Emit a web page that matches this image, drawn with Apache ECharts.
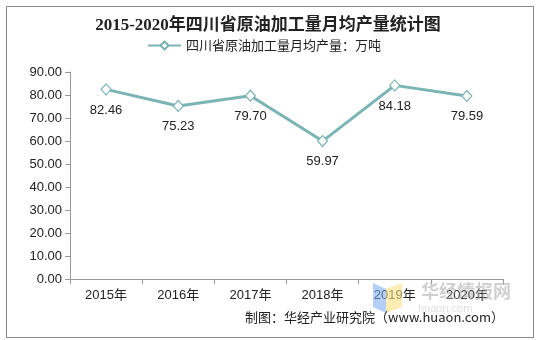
<!DOCTYPE html>
<html><head><meta charset="utf-8">
<script src="https://cdn.jsdelivr.net/npm/echarts@6/dist/echarts.min.js"></script>
<style>html,body{margin:0;padding:0;background:#fff}#c{width:536px;height:340px}</style>
</head><body><div id="c"></div>
<script>
var categories = ['2015年','2016年','2017年','2018年','2019年','2020年'];
var values = [82.46, 75.23, 79.70, 59.97, 84.18, 79.59];
var seriesName = '四川省原油加工量月均产量：万吨';
var titleText = '2015-2020年四川省原油加工量月均产量统计图';
var sourceText = '制图：华经产业研究院（www.huaon.com）';

var chart = echarts.init(document.getElementById('c'));
chart.setOption({
  animation: false,
  backgroundColor: '#fff',
  title: {
    text: titleText, left: 'center', top: 12,
    textStyle: {fontSize: 17, fontWeight: 'bold', color: '#222', fontFamily: 'Liberation Serif, Noto Sans CJK SC'}
  },
  legend: {
    top: 34, left: 142, itemWidth: 33, itemHeight: 10, itemGap: 4,
    textStyle: {fontSize: 13, color: '#222', fontFamily: 'Noto Sans CJK SC'},
    data: [seriesName]
  },
  grid: {left: 70, right: 33, top: 72, bottom: 61},
  xAxis: {
    type: 'category', data: categories, boundaryGap: true,
    axisLine: {lineStyle: {color: '#999'}},
    axisTick: {show: true, length: 5, lineStyle: {color: '#999'}},
    axisLabel: {fontSize: 13, color: '#222', margin: 10, fontFamily: 'Liberation Sans, Noto Sans CJK SC'}
  },
  yAxis: {
    type: 'value', min: 0, max: 90, interval: 10,
    axisLine: {show: true, lineStyle: {color: '#999'}},
    axisTick: {show: true, length: 5, lineStyle: {color: '#999'}},
    splitLine: {show: false},
    axisLabel: {fontSize: 13, color: '#222', margin: 8, fontFamily: 'Liberation Sans',
      formatter: function(v){return v.toFixed(2);}}
  },
  series: [{
    name: seriesName, type: 'line', data: values,
    symbol: 'diamond', symbolSize: [10, 11],
    lineStyle: {color: '#7ab4b3', width: 3},
    itemStyle: {color: '#fff', borderColor: '#7ab4b3', borderWidth: 1.2},
    label: {show: true, position: 'bottom', distance: 8, fontSize: 13, color: '#222',
      fontFamily: 'Liberation Sans', formatter: function(p){return p.value.toFixed(2);}},
    color: '#7ab4b3'
  }],
  graphic: [
    {type: 'rect', left: 4, top: 4, shape: {width: 527, height: 331}, style: {fill: 'none', stroke: '#888', lineWidth: 1}, z: -1},
    {type: 'text', left: 421, top: 282, style: {text: '华经情报网', fontSize: 18, fontWeight: 'bold', fill: 'rgba(170,170,170,0.55)', fontFamily: 'Noto Sans CJK SC'}, z: 10},
    {type: 'text', left: 418, top: 303, style: {text: 'huaon.com', fontSize: 11, fill: 'rgba(190,190,190,0.5)', fontFamily: 'Liberation Sans'}, z: 10},
    {type: 'polygon', shape: {points: [[373,283],[386,289],[386,313],[373,307]]}, style: {fill: 'rgba(120,170,240,0.55)'}, z: 10},
    {type: 'polygon', shape: {points: [[386,289],[402,283],[402,307],[386,313]]}, style: {fill: 'rgba(250,225,130,0.6)'}, z: 10},
    {type: 'text', right: 32, top: 311, style: {text: sourceText, fontSize: 13, fill: '#222', fontFamily: 'Noto Sans CJK SC'}, z: 11}
  ]
});
</script></body></html>
